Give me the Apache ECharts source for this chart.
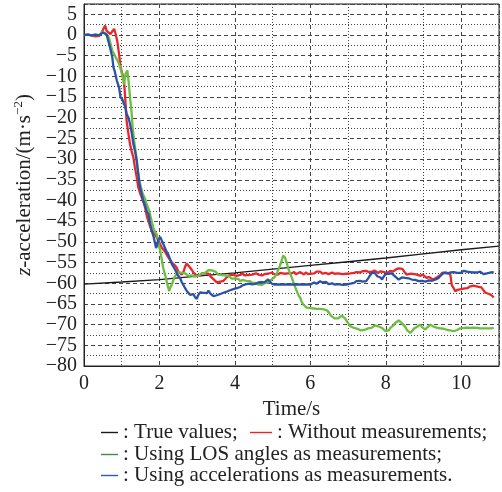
<!DOCTYPE html>
<html>
<head>
<meta charset="utf-8">
<script src="https://cdn.jsdelivr.net/npm/echarts@6/dist/echarts.min.js"></script>
<style>
  html, body { margin: 0; padding: 0; background: #fff; }
  #chart { width: 502px; height: 492px; }
</style>
</head>
<body>
<div id="chart"></div>
<script>
// Series names (legend labels)
const seriesNames = [
  'True values',
  'Without measurements',
  'Using LOS angles as measurements',
  'Using accelerations as measurements'
];

// Axis ranges and tick steps
const xRange = [0, 11];
const yRange = [-80, 7.5];
const xMajorStep = 2;
const xMinorStep = 1;
const yMajorStep = 5;
const yMinorStep = 2.5;

// z-acceleration true values [time s, m/s^2]
const trueValues = [
  [0, -60.2], [1, -59.7], [2, -59.1], [3, -58.3], [4, -57.5], [5, -56.6],
  [6, -55.7], [7, -54.8], [8, -53.9], [9, -52.9], [10, -51.9], [11, -51.0]
];

// Estimate without measurements
const withoutMeas = [
  [0,0],[0.1,0.1],[0.2,-0.1],[0.3,-0.3],[0.4,-0.2],[0.45,0.3],[0.5,1.2],[0.56,2.3],[0.6,1.0],[0.65,0.6],
  [0.7,0.2],[0.75,0.9],[0.8,1.5],[0.84,0.2],[0.88,-1.4],[0.93,-4.6],[0.97,-7.8],[1.02,-9.5],[1.06,-11.0],
  [1.09,-15],[1.13,-20.8],[1.18,-24],[1.22,-26.4],[1.26,-28],[1.31,-29.6],[1.35,-32],[1.4,-34.5],[1.44,-36.9],
  [1.5,-38.5],[1.56,-40],[1.62,-41.7],[1.67,-44],[1.71,-45],[1.76,-46.5],[1.8,-47.4],[1.88,-48.2],[1.93,-49.0],
  [1.97,-49.6],[2.02,-50.6],[2.06,-51.4],[2.11,-51.8],[2.15,-52.4],[2.19,-52.2],[2.24,-53.8],[2.29,-54.2],
  [2.33,-55],[2.37,-54.8],[2.42,-55.8],[2.46,-56.3],[2.5,-57.2],[2.55,-57.5],[2.59,-57.9],[2.64,-57.2],
  [2.68,-56.0],[2.72,-55.2],[2.77,-55.0],[2.81,-56.2],[2.86,-56.8],[2.9,-57.4],[2.94,-57.6],[2.99,-58.2],
  [3.03,-57.9],[3.08,-58.1],[3.12,-57.6],[3.17,-57.4],[3.21,-57.6],[3.26,-57.9],[3.3,-57.7],[3.34,-58.2],
  [3.39,-58.6],[3.43,-59.0],[3.47,-59.3],[3.52,-59.8],[3.56,-60.1],[3.61,-59.6],[3.65,-59.8],[3.7,-59.4],
  [3.74,-59.0],[3.79,-58.5],[3.83,-58.1],[3.87,-57.9],[3.92,-58.3],[3.96,-58.0],[4.01,-58.4],[4.05,-58.2],
  [4.1,-57.8],[4.14,-58.0],[4.2,-57.6],[4.25,-58.1],[4.3,-58.4],[4.35,-58.0],[4.4,-58.3],[4.46,-57.9],
  [4.51,-58.2],[4.56,-57.6],[4.62,-57.9],[4.67,-57.7],[4.72,-58.1],[4.78,-57.8],[4.83,-58.2],[4.88,-57.7],
  [4.93,-57.9],[4.98,-57.4],[5.04,-57.8],[5.09,-57.5],[5.14,-57.9],[5.2,-57.5],[5.25,-57.2],[5.3,-57.7],
  [5.35,-58.0],[5.41,-57.6],[5.46,-57.9],[5.51,-57.6],[5.57,-57.3],[5.62,-57.8],[5.67,-57.5],[5.73,-57.3],
  [5.78,-57.7],[5.83,-57.9],[5.88,-57.4],[5.94,-57.8],[6.0,-57.7],[6.05,-57.3],[6.1,-57.6],[6.16,-57.2],
  [6.21,-57.5],[6.26,-57.2],[6.32,-57.7],[6.37,-57.9],[6.42,-57.5],[6.48,-57.8],[6.53,-57.9],[6.58,-57.4],
  [6.64,-57.7],[6.69,-57.3],[6.74,-57.6],[6.79,-57.5],[6.85,-57.8],[6.9,-57.4],[6.95,-57.7],[7.0,-57.3],
  [7.06,-57.6],[7.11,-57.2],[7.16,-57.5],[7.22,-57.3],[7.27,-57.7],[7.32,-57.4],[7.38,-57.1],[7.43,-57.4],
  [7.48,-57.0],[7.54,-57.3],[7.59,-57.0],[7.64,-57.2],[7.7,-56.9],[7.75,-57.3],[7.8,-57.5],[7.86,-57.1],
  [7.91,-57.5],[7.96,-57.3],[8.02,-57.6],[8.07,-57.2],[8.12,-57.0],[8.18,-57.2],[8.23,-56.8],[8.28,-56.6],
  [8.34,-56.4],[8.39,-56.7],[8.44,-56.5],[8.49,-57.2],[8.55,-57.9],[8.6,-57.5],[8.66,-57.7],[8.71,-57.4],
  [8.76,-57.8],[8.82,-57.9],[8.87,-57.6],[8.92,-58.2],[8.98,-57.9],[9.03,-58.3],[9.08,-58.7],[9.14,-58.5],
  [9.19,-58.9],[9.25,-59.1],[9.3,-58.8],[9.35,-58.6],[9.4,-58.8],[9.45,-58.0],[9.49,-57.5],[9.54,-57.7],
  [9.6,-57.4],[9.65,-57.6],[9.71,-57.9],[9.75,-60.5],[9.8,-61.2],[9.84,-61.9],[9.9,-61.6],[9.95,-61.8],
  [10.0,-61.4],[10.06,-61.3],[10.11,-61.0],[10.16,-61.2],[10.22,-60.8],[10.27,-60.9],[10.32,-60.6],
  [10.37,-60.5],[10.43,-60.8],[10.48,-60.6],[10.53,-61.0],[10.58,-61.4],[10.64,-62.3],[10.69,-62.0],
  [10.74,-62.6],[10.8,-62.9],[10.86,-63.4]
];

// Estimate using LOS angles as measurements
const losMeas = [
  [0,0],[0.1,0.1],[0.2,-0.1],[0.3,0.1],[0.4,0.0],[0.45,0.3],[0.5,0.8],[0.53,0.6],[0.6,0.0],[0.66,-0.6],
  [0.7,-2.0],[0.75,-3.8],[0.8,-4.6],[0.84,-5.4],[0.88,-6.0],[0.93,-7],[0.97,-8.2],[1.02,-9.9],[1.06,-11.9],
  [1.1,-9.4],[1.15,-8.6],[1.19,-11.9],[1.22,-15.1],[1.26,-18.5],[1.29,-22.4],[1.33,-25.6],[1.38,-28.8],
  [1.41,-32],[1.47,-35.3],[1.52,-37.2],[1.56,-38.5],[1.62,-39.6],[1.66,-40.9],[1.71,-42.0],[1.75,-43.3],
  [1.8,-45.2],[1.84,-46.6],[1.88,-47.6],[1.93,-48.2],[1.97,-50.2],[2.02,-52.2],[2.06,-54.2],[2.1,-56.3],
  [2.15,-58.0],[2.19,-59.5],[2.23,-61.0],[2.26,-61.9],[2.29,-61.0],[2.33,-60.3],[2.37,-59.2],[2.41,-58.3],
  [2.46,-57.8],[2.5,-57.3],[2.55,-57.0],[2.59,-57.5],[2.64,-57.8],[2.68,-57.6],[2.72,-57.9],[2.77,-58.2],
  [2.81,-57.8],[2.86,-58.1],[2.9,-58.0],[2.94,-58.4],[2.99,-58.7],[3.03,-58.2],[3.08,-57.9],[3.12,-57.6],
  [3.17,-57.4],[3.21,-57.5],[3.26,-57.1],[3.3,-56.8],[3.35,-56.6],[3.39,-56.9],[3.43,-56.8],[3.48,-57.2],
  [3.52,-57.6],[3.56,-57.9],[3.61,-58.2],[3.65,-58.0],[3.7,-58.3],[3.74,-58.1],[3.79,-58.4],[3.83,-58.2],
  [3.87,-58.6],[3.92,-58.9],[3.96,-59.1],[4.01,-58.8],[4.05,-59.2],[4.1,-59.0],[4.14,-59.5],[4.2,-59.2],
  [4.25,-59.6],[4.3,-59.4],[4.35,-59.8],[4.4,-59.5],[4.46,-59.9],[4.51,-60.2],[4.56,-59.9],[4.62,-60.3],
  [4.67,-60.1],[4.72,-60.4],[4.78,-60.0],[4.83,-60.2],[4.88,-59.8],[4.93,-59.5],[4.98,-59.0],[5.04,-58.6],
  [5.09,-58.0],[5.14,-57.0],[5.19,-55.8],[5.24,-54.5],[5.28,-53.3],[5.3,-52.9],[5.33,-53.8],[5.37,-55.0],
  [5.42,-56.6],[5.47,-57.8],[5.51,-58.7],[5.56,-60.0],[5.6,-61.0],[5.64,-61.9],[5.69,-63.0],[5.73,-63.5],
  [5.77,-64.5],[5.82,-65.2],[5.86,-65.6],[5.9,-65.9],[5.95,-65.7],[6.0,-66.0],[6.05,-65.8],[6.1,-66.1],
  [6.17,-66.2],[6.22,-66.0],[6.26,-66.2],[6.31,-66.0],[6.36,-66.3],[6.41,-66.4],[6.45,-66.6],[6.5,-67.2],
  [6.55,-67.9],[6.6,-68.3],[6.64,-68.5],[6.69,-68.8],[6.74,-68.5],[6.79,-68.2],[6.83,-67.8],[6.88,-68.0],
  [6.92,-68.5],[6.97,-69.2],[7.02,-69.9],[7.06,-70.4],[7.11,-70.5],[7.16,-70.8],[7.2,-70.7],[7.25,-71.0],
  [7.3,-71.2],[7.34,-71.4],[7.39,-71.6],[7.43,-71.3],[7.48,-71.1],[7.53,-70.9],[7.57,-70.7],[7.62,-70.8],
  [7.66,-70.5],[7.71,-70.2],[7.76,-70.1],[7.8,-70.4],[7.85,-70.6],[7.9,-70.8],[7.94,-71.2],[7.99,-71.6],
  [8.03,-72.0],[8.08,-71.4],[8.12,-70.8],[8.16,-70.4],[8.21,-70.1],[8.25,-69.6],[8.3,-69.2],[8.34,-69.0],
  [8.39,-69.3],[8.43,-69.7],[8.47,-70.0],[8.52,-70.6],[8.56,-71.3],[8.61,-71.7],[8.65,-72.0],[8.7,-71.5],
  [8.74,-71.0],[8.78,-70.8],[8.83,-70.5],[8.87,-70.2],[8.91,-70.0],[8.96,-70.6],[9.0,-71.0],[9.05,-71.2],
  [9.09,-70.7],[9.14,-70.3],[9.18,-70.0],[9.23,-70.3],[9.27,-70.5],[9.32,-70.8],[9.36,-70.8],[9.41,-70.6],
  [9.45,-70.9],[9.5,-71.0],[9.54,-71.0],[9.59,-71.2],[9.63,-71.3],[9.67,-71.2],[9.71,-71.4],[9.76,-71.5],
  [9.8,-71.6],[9.85,-71.6],[9.89,-71.3],[9.93,-71.0],[9.97,-70.9],[10.02,-71.0],[10.07,-70.8],[10.11,-70.9],
  [10.16,-70.7],[10.2,-70.8],[10.24,-70.8],[10.29,-70.9],[10.33,-70.7],[10.38,-70.9],[10.42,-70.8],
  [10.46,-71.0],[10.5,-70.9],[10.55,-70.8],[10.6,-70.9],[10.64,-70.7],[10.69,-70.9],[10.73,-70.8],
  [10.78,-70.9],[10.82,-70.7],[10.86,-70.8]
];

// Estimate using accelerations as measurements
const accMeas = [
  [0,0],[0.1,0.1],[0.2,-0.1],[0.3,0.1],[0.4,-0.1],[0.45,0.2],[0.5,0.6],[0.55,1.0],[0.6,0.2],[0.62,-0.6],
  [0.69,-3],[0.75,-5.4],[0.78,-7.8],[0.81,-8.6],[0.87,-11],[0.93,-12.7],[0.97,-15.1],[1.02,-15.6],
  [1.06,-16.7],[1.09,-17.2],[1.13,-19.1],[1.18,-20.0],[1.22,-21.5],[1.26,-23.4],[1.31,-26.4],[1.35,-28],
  [1.4,-30.4],[1.44,-33.7],[1.47,-36.1],[1.53,-38.5],[1.57,-40],[1.62,-41.2],[1.67,-42.8],[1.71,-43.3],
  [1.75,-45.5],[1.8,-47.4],[1.84,-48.6],[1.88,-50.2],[1.91,-51.5],[1.93,-51.0],[1.97,-49.5],[2.02,-48.8],
  [2.06,-48.6],[2.1,-50.5],[2.15,-50.8],[2.19,-52.4],[2.24,-53.2],[2.29,-54.4],[2.33,-55.4],[2.37,-55.6],
  [2.42,-56.8],[2.46,-57.6],[2.5,-58.2],[2.55,-58.8],[2.59,-59.7],[2.64,-60.5],[2.68,-61.2],[2.72,-61.8],
  [2.77,-62.2],[2.81,-62.8],[2.86,-63.0],[2.9,-62.6],[2.94,-63.3],[2.99,-63.8],[3.03,-62.8],[3.08,-62.2],
  [3.12,-62.6],[3.17,-62.3],[3.21,-62.7],[3.26,-62.4],[3.3,-61.8],[3.35,-62.5],[3.39,-62.9],[3.43,-63.1],
  [3.48,-62.7],[3.52,-62.9],[3.56,-62.5],[3.61,-62.6],[3.65,-62.2],[3.7,-62.3],[3.74,-61.9],[3.79,-62.0],
  [3.83,-61.6],[3.87,-61.7],[3.92,-61.3],[3.96,-61.4],[4.01,-61.0],[4.05,-61.2],[4.1,-60.8],[4.14,-60.9],
  [4.2,-60.5],[4.25,-60.6],[4.3,-60.2],[4.35,-60.4],[4.4,-60.1],[4.46,-60.3],[4.51,-59.9],[4.56,-60.1],
  [4.62,-59.8],[4.67,-60.0],[4.72,-59.7],[4.78,-59.8],[4.83,-59.4],[4.88,-59.1],[4.93,-59.3],[4.98,-60.1],
  [5.04,-60.3],[5.5,-60.3],[6.0,-60.3],[6.05,-60.0],[6.1,-59.8],[6.16,-60.1],[6.21,-59.7],[6.26,-59.5],
  [6.32,-59.8],[6.37,-60.1],[6.42,-59.7],[6.48,-60.2],[6.53,-60.4],[6.58,-60.0],[6.64,-60.3],[6.69,-59.9],
  [6.74,-60.2],[6.79,-60.1],[6.85,-60.4],[6.9,-60.0],[6.95,-60.3],[7.0,-59.9],[7.06,-60.1],[7.11,-59.7],
  [7.16,-59.9],[7.22,-59.5],[7.27,-59.7],[7.32,-59.4],[7.38,-59.6],[7.43,-59.9],[7.48,-59.5],[7.54,-58.7],
  [7.59,-58.0],[7.64,-57.4],[7.68,-57.2],[7.72,-57.6],[7.77,-58.3],[7.81,-58.0],[7.86,-58.6],[7.9,-59.1],
  [7.95,-58.3],[7.99,-57.8],[8.03,-57.5],[8.08,-57.7],[8.12,-57.9],[8.16,-57.6],[8.2,-57.9],[8.25,-58.4],
  [8.29,-58.8],[8.34,-59.1],[8.38,-58.8],[8.43,-58.6],[8.47,-58.9],[8.51,-58.7],[8.56,-59.0],[8.6,-58.8],
  [8.65,-59.2],[8.69,-59.1],[8.74,-58.8],[8.78,-59.2],[8.83,-59.4],[8.87,-59.5],[8.91,-59.1],[8.96,-59.4],
  [9.0,-59.2],[9.05,-59.6],[9.09,-59.5],[9.14,-59.3],[9.18,-59.6],[9.23,-59.4],[9.27,-59.5],[9.32,-59.1],
  [9.36,-58.8],[9.4,-58.7],[9.45,-58.2],[9.49,-57.8],[9.53,-57.5],[9.58,-57.8],[9.62,-57.6],[9.66,-57.7],
  [9.71,-57.4],[9.75,-57.6],[9.8,-57.3],[9.84,-57.6],[9.89,-57.5],[9.93,-57.2],[9.98,-57.5],[10.02,-57.3],
  [10.07,-57.0],[10.11,-57.3],[10.15,-57.2],[10.2,-57.5],[10.24,-57.3],[10.29,-57.6],[10.33,-57.4],
  [10.37,-57.7],[10.42,-57.4],[10.46,-57.5],[10.5,-57.2],[10.55,-57.4],[10.59,-57.8],[10.64,-57.5],
  [10.68,-57.6],[10.73,-57.2],[10.77,-57.4],[10.82,-57.1],[10.86,-57.3]
];

const FONT = 'Liberation Serif';
const TEXT = '#222';
const GRID_COLOR = '#444';
const colors = ['#1a1a1a', '#e8272b', '#6cbd42', '#2a52a6'];
const legendColors = ['#1a1a1a', '#e8272b', '#3d8f3d', '#2a5cb0'];

const fmtNum = (v) => (v < 0 ? '\u2212' + Math.abs(v) : String(v));

const chart = echarts.init(document.getElementById('chart'), null, { renderer: 'canvas' });

// One legend entry per block so each row can be placed on its own
function legendBlock(name, left, top, iconWidth) {
  return {
    top: top,
    left: left,
    orient: 'horizontal',
    padding: 0,
    itemGap: 0,
    itemWidth: iconWidth,
    itemHeight: 1.4,
    icon: 'rect',
    selectedMode: false,
    textStyle: { fontFamily: FONT, fontSize: 21, color: TEXT },
    formatter: (n) => ': ' + n + (n === seriesNames[3] ? '.' : ';'),
    data: [{ name: name, itemStyle: { color: legendColors[seriesNames.indexOf(name)] } }]
  };
}

const option = {
  animation: false,
  backgroundColor: '#fff',
  grid: {
    left: 84, right: 3, top: 4, bottom: 126,
    show: true, borderColor: '#222', borderWidth: 1, backgroundColor: 'transparent'
  },
  legend: [
    legendBlock(seriesNames[0], 101, 422, 17),
    legendBlock(seriesNames[1], 250, 422, 22),
    legendBlock(seriesNames[2], 101, 444, 17),
    legendBlock(seriesNames[3], 101, 465, 17)
  ],
  xAxis: [
    {
      type: 'value', min: xRange[0], max: xRange[1], interval: xMajorStep,
      name: 'Time/s', nameLocation: 'middle', nameGap: 27,
      nameTextStyle: { fontFamily: FONT, fontSize: 21, color: TEXT },
      axisLine: { show: true, onZero: false, lineStyle: { color: '#222', width: 1 } },
      axisTick: { show: false },
      axisLabel: {
        fontFamily: FONT, fontSize: 20, color: TEXT, margin: 8,
        formatter: (v) => (v % xMajorStep === 0 ? fmtNum(v) : '')
      },
      splitLine: { show: true, lineStyle: { color: GRID_COLOR, width: 1, type: [4, 3] } }
    },
    {
      type: 'value', min: xRange[0], max: xRange[1], interval: xMinorStep,
      position: 'top', axisLine: { show: false }, axisTick: { show: false },
      axisLabel: { show: false },
      splitLine: { show: true, lineStyle: { color: ['rgba(0,0,0,0)', GRID_COLOR], width: 1, type: [1, 2] } }
    }
  ],
  yAxis: [
    {
      type: 'value', min: yRange[0], max: yRange[1], interval: yMajorStep,
      name: '{i|z}-acceleration/(m·s{s|\u22122})',
      nameLocation: 'middle', nameGap: 41,
      nameTextStyle: {
        fontFamily: FONT, fontSize: 21, color: TEXT,
        rich: {
          i: { fontFamily: FONT, fontSize: 21, fontStyle: 'italic', color: TEXT, lineHeight: 24 },
          s: { fontFamily: FONT, fontSize: 13, color: TEXT, lineHeight: 13, verticalAlign: 'top' }
        }
      },
      axisLine: { show: true, onZero: false, lineStyle: { color: '#222', width: 1 } },
      axisTick: { show: false },
      axisLabel: {
        fontFamily: FONT, fontSize: 20, color: TEXT, margin: 7,
        formatter: (v) => (v % yMajorStep === 0 ? fmtNum(v) : '')
      },
      splitLine: { show: true, lineStyle: { color: GRID_COLOR, width: 1, type: [4, 3] } }
    },
    {
      type: 'value', min: yRange[0], max: yRange[1], interval: yMinorStep,
      position: 'right', axisLine: { show: false }, axisTick: { show: false },
      axisLabel: { show: false },
      splitLine: { show: true, lineStyle: { color: ['rgba(0,0,0,0)', GRID_COLOR], width: 1, type: [1, 2] } }
    }
  ],
  series: [
    { name: seriesNames[0], data: trueValues, lw: 1.3 },
    { name: seriesNames[1], data: withoutMeas, lw: 2.3 },
    { name: seriesNames[2], data: losMeas, lw: 2.3 },
    { name: seriesNames[3], data: accMeas, lw: 2.3 }
  ].map((s, i) => ({
    name: s.name,
    type: 'line',
    xAxisIndex: 0,
    yAxisIndex: 0,
    data: s.data,
    showSymbol: false,
    symbol: 'none',
    smooth: false,
    color: colors[i],
    lineStyle: { color: colors[i], width: s.lw },
    z: 2 + i
  }))
};

chart.setOption(option);
</script>
</body>
</html>
